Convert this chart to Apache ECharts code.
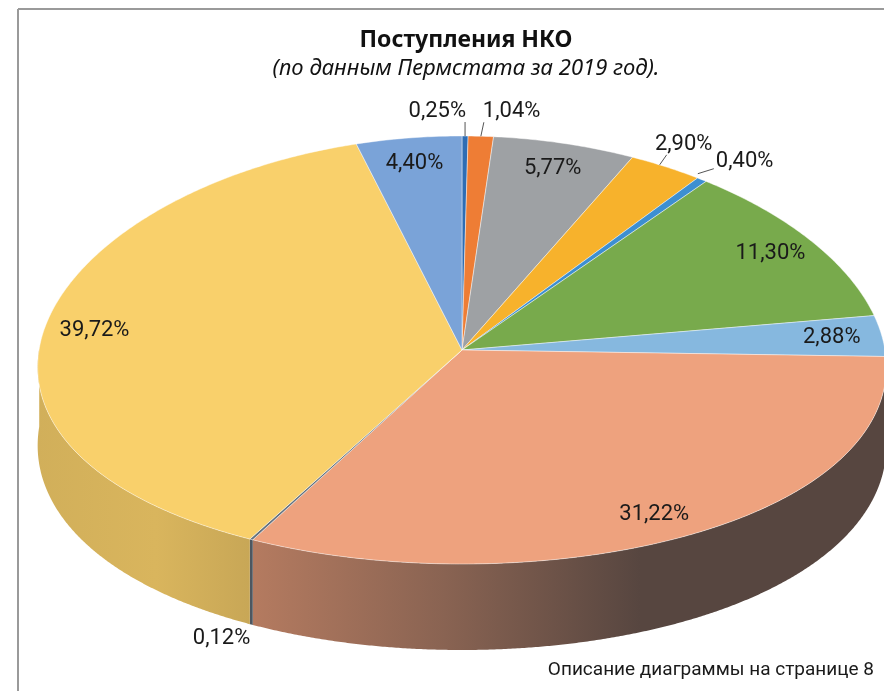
<!DOCTYPE html>
<html>
<head>
<meta charset="utf-8">
<style>
  html, body { margin: 0; padding: 0; background: #fff; }
  #chart { width: 884px; height: 691px; }
</style>
<script src="https://cdn.jsdelivr.net/npm/echarts@6/dist/echarts.min.js"></script>
</head>
<body>
<div id="chart"></div>
<script>
// доли поступлений, %, по часовой стрелке от 12 часов
var shares = [0.25, 1.04, 5.77, 2.90, 0.40, 11.30, 2.88, 31.22, 0.12, 39.72, 4.40];
var sliceColors = ["#2e6db4", "#ee7d35", "#9ea1a4", "#f7b22c", "#3d8fd1", "#78aa4c",
                   "#86b8df", "#eea27e", "#65727e", "#f9d06b", "#7aa3d8"];
// где ставить подпись: внутри или снаружи с выноской
var labelPlace = ["up-left", "up-right", "in", "up", "right", "in", "in", "in", "below", "in", "in"];

var titleText = "Поступления НКО";
var subText = "(по данным Пермстата за 2019 год).";
var noteText = "Описание диаграммы на странице 8";

// "3D" геометрия
var CX = 462, CY = 350, RX = 423, RY = 214;
var PERSP = 0.08;                      // передний край шире
var WARP = 3.5 * Math.PI / 180;        // искажение углов перспективой
var total = shares.reduce(function (s, v) { return s + v; }, 0);
var starts = [];
var acc = 0;
shares.forEach(function (v) { starts.push(acc / total * 2 * Math.PI); acc += v; });

function screenAngle(th) { return th + WARP * (1 - Math.cos(th)); }
function proj(th, f) {
  var t = screenAngle(th);
  var u = Math.sin(t) * f, v = -Math.cos(t) * f;
  return [CX + RX * u * (1 + PERSP * v), CY + RY * v];
}
function depth(th) { return 78 + 8 * (-Math.cos(screenAngle(th))); }

function hex2rgb(h) {
  return [parseInt(h.substr(1, 2), 16), parseInt(h.substr(3, 2), 16), parseInt(h.substr(5, 2), 16)];
}
function rgb(c) { return "rgb(" + c.map(function (x) { return Math.round(x); }).join(",") + ")"; }
function shade(h, k) { return hex2rgb(h).map(function (x) { return x * k; }); }
function mix(c1, c2, t) { return c1.map(function (x, i) { return x + (c2[i] - x) * t; }); }

function fmt(v) { return v.toFixed(2).replace(".", ",") + "%"; }

var labelFont = { fontSize: 22, fontFamily: "Roboto", fill: "#1a1a1a" };

function renderWall(params, api) {
  var i = params.dataIndex;
  var a = starts[i], b = a + api.value(0) / total * 2 * Math.PI;
  var n = Math.max(2, Math.ceil((b - a) / 0.005));
  var top = [], bot = [];
  for (var k = 0; k <= n; k++) {
    var th = a + (b - a) * k / n;
    if (-Math.cos(screenAngle(th)) < -0.01) continue;
    var p = proj(th, 1);
    top.push(p);
    bot.push([p[0], p[1] + depth(th)]);
  }
  if (top.length < 2) return null;
  var base = shade(sliceColors[i], 0.83);
  var dark = hex2rgb("#574640");
  var grad = new echarts.graphic.LinearGradient(250, 0, 640, 0, [
    { offset: 0, color: rgb(shade(sliceColors[i], 0.76)) },
    { offset: 0.5, color: rgb(mix(base, dark, 0.55)) },
    { offset: 1, color: rgb(dark) }
  ], true);
  // у жёлтого сектора бок светлее
  if (base[0] > 200 && base[1] > 160) {
    grad = new echarts.graphic.LinearGradient(35, 0, 255, 0, [
      { offset: 0, color: rgb(shade(sliceColors[i], 0.84)) },
      { offset: 0.55, color: rgb(shade(sliceColors[i], 0.87)) },
      { offset: 1, color: rgb(shade(sliceColors[i], 0.8)) }
    ], true);
  }
  return {
    type: "polygon",
    shape: { points: top.concat(bot.reverse()) },
    style: { fill: grad }
  };
}

function renderTop(params, api) {
  var i = params.dataIndex;
  var val = api.value(0);
  var a = starts[i], b = a + val / total * 2 * Math.PI;
  var n = Math.max(2, Math.ceil((b - a) / 0.01));
  var pts = [proj(0, 0)];
  for (var k = 0; k <= n; k++) pts.push(proj(a + (b - a) * k / n, 1));
  var children = [{
    type: "polygon",
    shape: { points: pts },
    style: { fill: sliceColors[i], stroke: "rgba(255,255,255,0.55)", lineWidth: 0.8 }
  }];

  var mid = (a + b) / 2;
  var place = labelPlace[i];
  var e = proj(mid, 1);
  var tx, ty, align = "center", valign = "middle", line = null;
  if (place === "in") {
    var p = proj(mid, 0.88);
    tx = p[0]; ty = p[1];
  } else if (place === "up-left") {
    line = [e, [e[0], e[1] - 14]];
    tx = e[0] + 1; ty = e[1] - 14; align = "right"; valign = "bottom";
  } else if (place === "up-right") {
    line = [e, [e[0] + 3, e[1] - 14]];
    tx = e[0] + 2; ty = e[1] - 14; align = "left"; valign = "bottom";
  } else if (place === "up") {
    line = [[e[0] - 6, e[1] - 2], [e[0] + 1, e[1] - 12]];
    tx = e[0] + 18; ty = e[1] - 11; valign = "bottom";
  } else if (place === "right") {
    line = [[e[0] - 4, e[1] - 6], [e[0] + 12, e[1] - 11]];
    tx = e[0] + 14; ty = e[1] - 18; align = "left";
  } else if (place === "below") {
    tx = e[0] - 1; ty = e[1] + depth(mid) + 3; align = "right"; valign = "top";
  }
  if (line) {
    children.push({
      type: "polyline",
      shape: { points: line },
      style: { stroke: "#555", lineWidth: 1, fill: null }
    });
  }
  children.push({
    type: "text",
    x: tx, y: ty,
    style: Object.assign({ text: fmt(val), align: align, verticalAlign: valign }, labelFont)
  });
  return { type: "group", children: children };
}

var chart = echarts.init(document.getElementById("chart"));
chart.setOption({
  backgroundColor: "#fff",
  animation: false,
  title: {
    text: titleText,
    subtext: subText,
    left: 461,
    top: 24,
    textAlign: "center",
    itemGap: 6,
    textStyle: { fontFamily: "Noto Sans", fontWeight: "bold", fontSize: 23, color: "#111" },
    subtextStyle: { fontFamily: "Noto Sans", fontStyle: "italic", fontSize: 22, color: "#111" }
  },
  graphic: [
    { type: "line", shape: { x1: 18, y1: 9, x2: 884, y2: 9 }, style: { stroke: "#9a9a9a", lineWidth: 2 } },
    { type: "line", shape: { x1: 18, y1: 9, x2: 18, y2: 691 }, style: { stroke: "#9a9a9a", lineWidth: 2 } },
    {
      type: "text", right: 10, top: 661,
      style: { text: noteText, fontFamily: "Roboto", fontSize: 19, fill: "#1a1a1a" }
    }
  ],
  series: [
    { type: "custom", coordinateSystem: "none", silent: true, data: shares, renderItem: renderWall, z: 1 },
    { type: "custom", coordinateSystem: "none", silent: true, data: shares, renderItem: renderTop, z: 2 }
  ]
});
window.addEventListener("resize", function () { chart.resize(); });
</script>
</body>
</html>
